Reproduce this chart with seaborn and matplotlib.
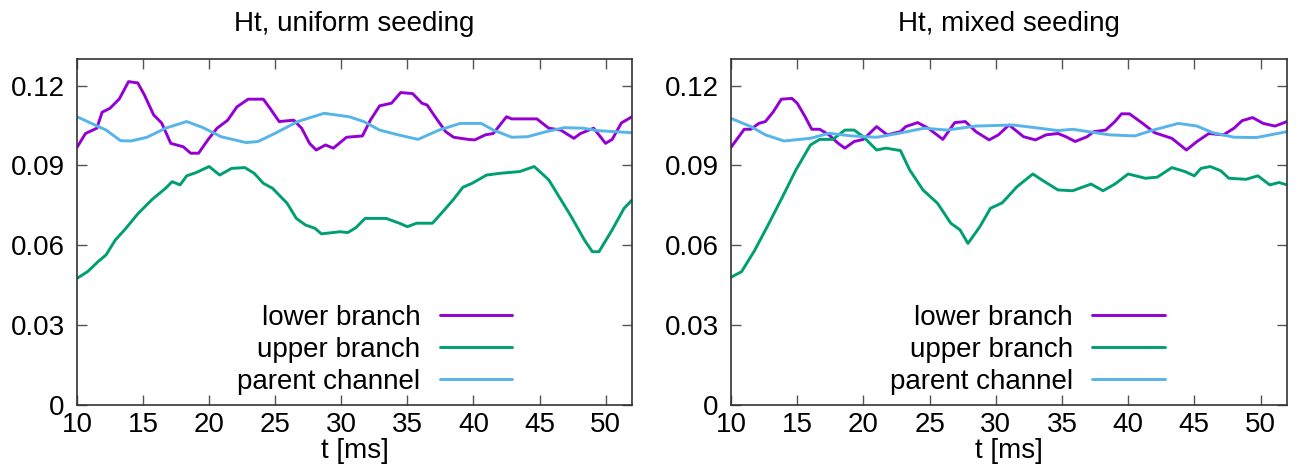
import numpy as np
import pandas as pd
import matplotlib
matplotlib.use("Agg")
import matplotlib.pyplot as plt
import seaborn as sns

# ---------------- data: uniform seeding ----------------
u_lower_t = [10, 10.64, 11.5, 11.9, 12.5, 13.2, 13.9, 14.6, 15.1, 15.8, 16.4, 17.1, 18.05, 18.6, 19.2, 19.9,
             20.6, 21.4, 22.1, 22.95, 24.1, 24.6, 25.3, 26.4, 27.0, 27.6, 28.1, 28.8, 29.4, 30.4, 31.6, 32.2,
             32.9, 33.8, 34.5, 35.4, 36.1, 36.5, 37.1, 37.9, 38.5, 39.6, 40.1, 40.9, 41.5, 42.5, 42.9, 44.8,
             45.7, 46.6, 47.6, 48.1, 49.1, 50.0, 50.5, 51.2, 52]
u_lower_v = [0.0968, 0.102, 0.104, 0.110, 0.1115, 0.115, 0.1215, 0.121, 0.1165, 0.109, 0.106, 0.0983, 0.097,
             0.0946, 0.0946, 0.0996, 0.104, 0.107, 0.112, 0.1149, 0.1149, 0.1115, 0.1065, 0.107, 0.104, 0.0983,
             0.0958, 0.0977, 0.0965, 0.1006, 0.1011, 0.107, 0.1124, 0.1134, 0.1174, 0.117, 0.1134, 0.1127,
             0.1083, 0.1027, 0.1006, 0.0998, 0.0996, 0.1015, 0.102, 0.1083, 0.1075, 0.1075, 0.104, 0.1033,
             0.1002, 0.102, 0.104, 0.0983, 0.0998, 0.106, 0.1083]

u_upper_t = [10, 10.8, 11.6, 12.2, 12.9, 13.6, 14.6, 15.7, 16.7, 17.2, 17.8, 18.3, 19.0, 20.0, 20.8, 21.7,
             22.7, 23.4, 24.1, 24.8, 25.9, 26.6, 27.3, 28.0, 28.5, 29.9, 30.5, 31.1, 31.8, 33.4, 34.4, 35.0,
             35.7, 36.9, 37.8, 38.5, 39.2, 39.9, 41.0, 42.1, 43.5, 44.6, 45.7, 46.6, 47.4, 48.4, 49.0, 49.5,
             50.5, 51.4, 52]
u_upper_v = [0.0476, 0.0501, 0.0539, 0.0564, 0.062, 0.0658, 0.0718, 0.0773, 0.0814, 0.0839, 0.0827, 0.0861,
             0.0873, 0.0896, 0.0864, 0.0889, 0.0892, 0.0871, 0.0833, 0.0814, 0.0758, 0.0701, 0.0676, 0.0664,
             0.0643, 0.0651, 0.0648, 0.0666, 0.0701, 0.0701, 0.0683, 0.067, 0.0683, 0.0683, 0.0733, 0.0773,
             0.0818, 0.0833, 0.0864, 0.0871, 0.0877, 0.0896, 0.0846, 0.0773, 0.0708, 0.062, 0.0576, 0.0576,
             0.0658, 0.0739, 0.077]

u_parent_t = [10, 11.1, 12.2, 13.3, 14.1, 15.3, 16.7, 18.3, 19.5, 20.9, 22.8, 23.7, 25.0, 26.7, 28.7, 30.6,
              31.7, 32.9, 34.3, 35.8, 37.4, 39.0, 40.6, 41.5, 42.9, 44.1, 45.5, 46.9, 48.3, 49.4, 52]
u_parent_v = [0.1083, 0.1058, 0.1033, 0.0993, 0.0992, 0.1006, 0.104, 0.1065, 0.1043, 0.1008, 0.0986, 0.099,
              0.1021, 0.1065, 0.1096, 0.1083, 0.1065, 0.1033, 0.1015, 0.0998, 0.1033, 0.1058, 0.1058, 0.1033,
              0.1006, 0.1008, 0.1027, 0.1042, 0.104, 0.1031, 0.1023]

# ---------------- data: mixed seeding ----------------
m_lower_t = [10, 11.0, 11.5, 12.1, 12.6, 13.2, 13.8, 14.6, 15.0, 15.6, 16.1, 16.7, 17.4, 18.1, 18.6, 19.3,
             20.0, 21.0, 21.8, 22.8, 23.2, 24.1, 24.9, 26.0, 26.9, 27.7, 28.5, 29.5, 30.2, 31.0, 32.1, 33.0,
             33.8, 34.7, 35.3, 36.0, 36.9, 37.4, 38.3, 39.0, 39.5, 40.1, 41.1, 42.0, 43.3, 44.4, 45.2, 46.1,
             47.2, 48.0, 48.6, 49.4, 50.2, 51.1, 52]
m_lower_v = [0.0968, 0.1036, 0.1036, 0.1058, 0.1065, 0.1102, 0.1149, 0.1152, 0.1134, 0.1083, 0.1036, 0.1036,
             0.1015, 0.0983, 0.0965, 0.099, 0.0998, 0.1046, 0.1015, 0.1027, 0.1046, 0.1061, 0.104, 0.0998,
             0.1061, 0.1065, 0.1027, 0.0996, 0.1015, 0.1052, 0.1008, 0.0996, 0.1015, 0.102, 0.1008, 0.099,
             0.1008, 0.1027, 0.1033, 0.1065, 0.1094, 0.1094, 0.1058, 0.1023, 0.1002, 0.0958, 0.099, 0.102,
             0.1015, 0.104, 0.1068, 0.108, 0.1058, 0.1048, 0.1065]

m_upper_t = [10, 10.8, 11.8, 12.8, 13.9, 14.9, 16.0, 16.7, 17.7, 18.6, 19.3, 20.0, 21.0, 21.7, 22.8, 23.5,
             24.5, 25.6, 26.6, 27.3, 27.9, 28.8, 29.6, 30.5, 31.6, 32.8, 33.5, 34.7, 35.8, 37.2, 38.1, 39.0,
             40.0, 41.3, 42.2, 43.3, 44.3, 45.0, 45.5, 46.2, 47.0, 47.6, 48.9, 49.8, 50.7, 51.4, 52]
m_upper_v = [0.048, 0.0501, 0.0582, 0.0676, 0.0783, 0.0883, 0.0977, 0.0998, 0.0998, 0.1033, 0.1033, 0.1008,
             0.0958, 0.0965, 0.0956, 0.0883, 0.0808, 0.0758, 0.0683, 0.0658, 0.0607, 0.067, 0.0739, 0.076,
             0.082, 0.0868, 0.0845, 0.0808, 0.0805, 0.083, 0.0805, 0.083, 0.0868, 0.0852, 0.0856, 0.0892,
             0.0877, 0.0861, 0.0889, 0.0896, 0.088, 0.0852, 0.0848, 0.0861, 0.0827, 0.0836, 0.0827]

m_parent_t = [10, 11.5, 12.6, 14.0, 16.0, 17.4, 19.1, 21.0, 22.7, 24.6, 26.3, 28.5, 31.3, 33.3, 34.7, 35.8,
              38.6, 40.5, 41.9, 43.8, 45.2, 46.4, 48.0, 49.7, 52]
m_parent_v = [0.1077, 0.1046, 0.1015, 0.0992, 0.1002, 0.1021, 0.1011, 0.1006, 0.1021, 0.104, 0.1033, 0.1048,
              0.1052, 0.104, 0.1031, 0.1036, 0.1015, 0.1011, 0.1033, 0.1058, 0.1048, 0.1023, 0.1006, 0.1005,
              0.1027]

series_names = ["lower branch", "upper branch", "parent channel"]
series_colors = ["#9400d3", "#009e73", "#56b4e9"]
titles = ["Ht, uniform seeding", "Ht, mixed seeding"]
x_ticks = [10, 15, 20, 25, 30, 35, 40, 45, 50]
y_ticks = [0, 0.03, 0.06, 0.09, 0.12]
y_tick_labels = ["0", "0.03", "0.06", "0.09", "0.12"]


def make_df(lt, lv, ut, uv, pt, pv):
    frames = []
    for name, t, v in zip(series_names, [lt, ut, pt], [lv, uv, pv]):
        frames.append(pd.DataFrame({"t": t, "Ht": v, "series": name}))
    return pd.concat(frames, ignore_index=True)


dfs = [make_df(u_lower_t, u_lower_v, u_upper_t, u_upper_v, u_parent_t, u_parent_v),
       make_df(m_lower_t, m_lower_v, m_upper_t, m_upper_v, m_parent_t, m_parent_v)]

sns.set_theme(style="ticks")
plt.rcParams["font.family"] = ["Liberation Sans", "DejaVu Sans"]
plt.rcParams["text.color"] = "black"
plt.rcParams["axes.labelcolor"] = "black"

fig = plt.figure(figsize=(12.97, 4.65), dpi=100)
axes_rects = [[77 / 1297, 60 / 465, 555 / 1297, 346 / 465],
              [731 / 1297, 60 / 465, 556 / 1297, 346 / 465]]
legend_anchor_x = [0.784, 0.78]

FS = 20
for i, df in enumerate(dfs):
    ax = fig.add_axes(axes_rects[i])
    sns.lineplot(data=df, x="t", y="Ht", hue="series", hue_order=series_names,
                 palette=series_colors, estimator=None, sort=True, linewidth=2.1, ax=ax)
    ax.set_xlim(10, 52)
    ax.set_ylim(0, 0.13)
    ax.set_xticks(x_ticks)
    ax.set_xticklabels([str(x) for x in x_ticks], fontsize=FS)
    ax.set_yticks(y_ticks)
    ax.set_yticklabels(y_tick_labels, fontsize=FS)
    ax.tick_params(direction="in", length=7, width=1, top=True, right=True,
                   color="#555555", labelcolor="black")
    ax.tick_params(axis="y", pad=9)
    ax.tick_params(axis="x", pad=5)
    ax.set_xlabel("t [ms]", fontsize=FS, labelpad=0, color="black")
    ax.set_ylabel("")
    ax.set_title(titles[i], fontsize=FS, pad=20, color="black")
    for sp in ax.spines.values():
        sp.set_linewidth(1.2)
        sp.set_color("#333333")
    handles, labels = ax.get_legend_handles_labels()
    leg = ax.legend(handles=handles, labels=labels, loc="center right",
                    bbox_to_anchor=(legend_anchor_x[i], 0.159), frameon=False,
                    markerfirst=False, fontsize=FS, handlelength=2.6, handletextpad=0.7,
                    labelspacing=0.22, borderpad=0, borderaxespad=0)
    for txt in leg.get_texts():
        txt.set_color("black")

fig.savefig("out.png", dpi=100)
